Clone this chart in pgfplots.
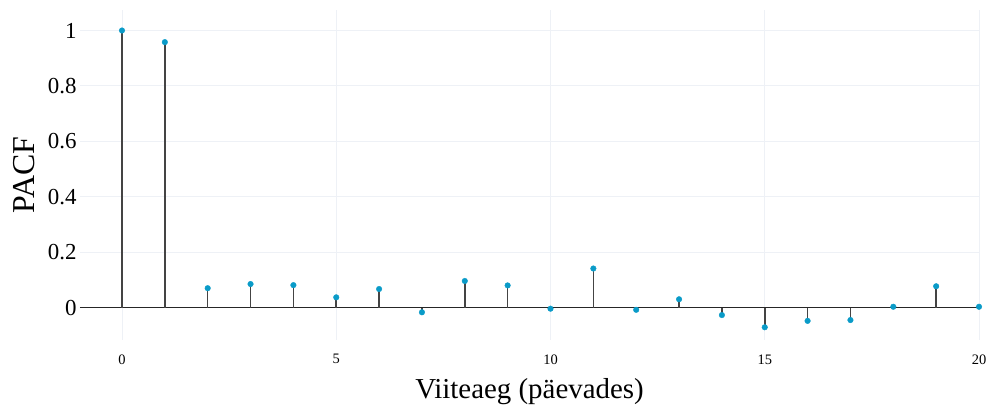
\documentclass[border=0pt]{standalone}
\usepackage{fontspec}
\setmainfont{Liberation Serif}
\usepackage{pgfplots}
\pgfplotsset{compat=1.18}
\definecolor{stem}{HTML}{444444}
\definecolor{dot}{HTML}{0A9BC8}
\definecolor{gridc}{HTML}{EEF1F6}
\pgfplotstableread{
lag pacf
0 1.000
1 0.958
2 0.070
3 0.085
4 0.081
5 0.037
6 0.067
7 -0.017
8 0.096
9 0.080
10 -0.004
11 0.141
12 -0.008
13 0.030
14 -0.027
15 -0.071
16 -0.048
17 -0.045
18 0.003
19 0.077
20 0.003
}\pacftable
\begin{document}
\begin{tikzpicture}
\useasboundingbox (-80bp,-70bp) rectangle (911bp,340bp);
\begin{axis}[
  scale only axis,
  width=899bp, height=330bp,
  xmin=-0.98, xmax=20, ymin=-0.117, ymax=1.074,
  axis line style={draw=none},
  major tick length=0pt,
  xtick={0,5,10,15,20},
  ytick={0.2,0.4,0.6,0.8,1},
  yticklabels={0.2,0.4,0.6,0.8,1},
  extra y ticks={0},
  extra y tick labels={0},
  extra y tick style={grid style={draw=black!85, line width=1.6bp}},
  grid=major,
  grid style={draw=gridc, line width=0.9bp},
  /pgf/number format/assume math mode=true,
  xticklabel style={font=\fontsize{14.5}{16}\selectfont, yshift=-11bp},
  yticklabel style={font=\fontsize{23}{25}\selectfont, xshift=0bp},
  xlabel={Viiteaeg (päevades)},
  ylabel={PACF},
  xlabel style={font=\fontsize{29}{31}\selectfont, at={(axis description cs:0.5,-0.155)}, anchor=center},
  ylabel style={font=\fontsize{32}{34}\selectfont, at={(axis description cs:-0.0625,0.5)}, anchor=center},
]
\addplot[ycomb, draw=stem, line width=1.6bp] table[x=lag, y=pacf] {\pacftable};
\addplot[only marks, mark=*, mark size=2.8bp, draw=dot, fill=dot] table[x=lag, y=pacf] {\pacftable};
\end{axis}
\end{tikzpicture}
\end{document}
